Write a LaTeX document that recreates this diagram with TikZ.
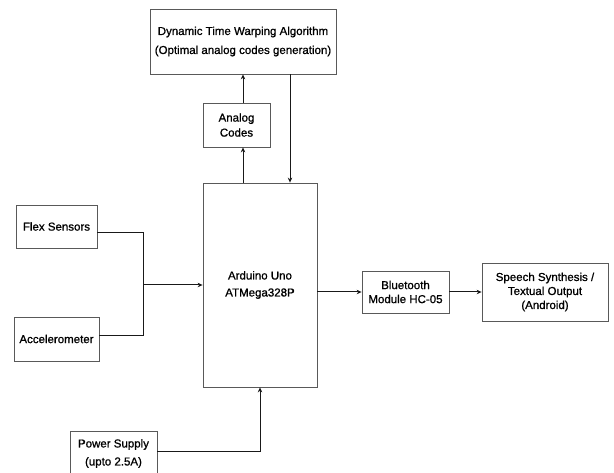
\documentclass[tikz,border=0pt]{standalone}
\usepackage{fontspec}
\setmainfont{Liberation Sans}
\newfontfamily\semib[FakeBold=0.9]{Liberation Sans}
\usetikzlibrary{arrows.meta,calc}
\tikzset{
  blk/.style={draw=black!65, line width=0.8pt, fill=white, align=center, inner sep=0pt,
    font=\semib\fontsize{11.5}{15}\selectfont},
  conn/.style={draw=black!90, line width=1pt},
  arr/.style={conn, -{Stealth[length=5pt,width=4.5pt]}}
}
\begin{document}
\begin{tikzpicture}[x=1pt,y=-1pt]
\clip (0,0) rectangle (614,473);
\fill[white] (0,0) rectangle (614,473);
\node[blk, minimum width=186pt, minimum height=65pt, font=\semib\fontsize{11.5}{19}\selectfont] (dtw) at (243,41.5) {Dynamic Time Warping Algorithm\\(Optimal analog codes generation)};
\node[blk, minimum width=67pt, minimum height=44pt] (codes) at (236.5,125) {Analog\\Codes};
\node[blk, minimum width=114pt, minimum height=204pt, font=\semib\fontsize{11.5}{17}\selectfont] (ard) at (260,285) {Arduino Uno\\ATMega328P};
\node[blk, minimum width=81pt, minimum height=43pt] (flex) at (56.5,226.5) {Flex Sensors};
\node[blk, minimum width=85pt, minimum height=44pt] (acc) at (56.5,339) {Accelerometer};
\node[blk, minimum width=87pt, minimum height=42pt, font=\semib\fontsize{11.5}{14}\selectfont] (bt) at (405.5,292) {Bluetooth\\Module HC-05};
\node[blk, minimum width=126pt, minimum height=58pt, font=\semib\fontsize{11.5}{14}\selectfont] (sp) at (545,292) {Speech Synthesis /\\Textual Output\\(Android)};
\node[blk, minimum width=87pt, minimum height=45pt, font=\semib\fontsize{11.5}{18}\selectfont] (ps) at (113.5,453.5) {Power Supply\\(upto 2.5A)};
\coordinate (j) at (143,285);
\coordinate (dn) at ([xshift=47pt]dtw.south);
\draw[arr] (ard.north -| dtw.south) -- (codes.south -| dtw.south);
\draw[arr] (codes.north -| dtw.south) -- (dtw.south);
\draw[arr] (dn) -- (dn |- ard.north);
\draw[conn] ([yshift=-6pt]flex.east) -| (j);
\draw[conn] ([yshift=3pt]acc.east) -| (j);
\draw[arr] (j) -- (j -| ard.west);
\draw[arr] (ard.east |- bt.west) -- (bt.west);
\draw[arr] (bt.east) -- (sp.west);
\draw[arr] ([yshift=1.5pt]ps.east) -| (ard.south);
\end{tikzpicture}
\end{document}
